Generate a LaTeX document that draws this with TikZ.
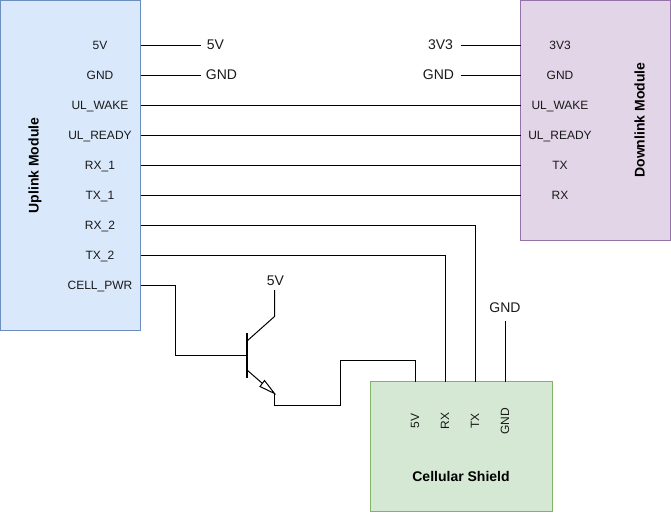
\documentclass[tikz,border=0pt]{standalone}
\usepackage{fontspec}
\setmainfont{Liberation Sans}
\definecolor{upfill}{HTML}{DAE8FC}
\definecolor{updraw}{HTML}{6C8EBF}
\definecolor{downfill}{HTML}{E1D5E7}
\definecolor{downdraw}{HTML}{9673A6}
\definecolor{shfill}{HTML}{D5E8D4}
\definecolor{shdraw}{HTML}{82B366}
\tikzset{
  module/.style={draw=#1,line width=1pt,inner sep=0pt,anchor=north west},
  port/.style={inner sep=0pt,text height=9pt,text depth=0pt,font=\fontsize{12}{14}\selectfont,text=black!90},
  free/.style={inner sep=0pt,font=\fontsize{14}{16}\selectfont,text=black!90},
  title/.style={inner sep=0pt,font=\fontsize{14}{16}\selectfont\bfseries},
  wire/.style={draw=black,line width=1pt},
}
\begin{document}
\begin{tikzpicture}[x=1pt,y=-1pt]
\useasboundingbox (0,0) rectangle (671,512);
\node[module=updraw,fill=upfill,minimum width=140pt,minimum height=330pt] (up) at (0,0) {};
\node[module=downdraw,fill=downfill,minimum width=150pt,minimum height=240pt] (down) at (520,0) {};
\node[module=shdraw,fill=shfill,minimum width=182pt,minimum height=130pt] (shield) at (370,381) {};
\node[title,rotate=90] (uptitle) at (35,165.5) {Uplink Module};
\node[title,rotate=90] (downtitle) at (639.5,120) {Downlink Module};
\node[title] (shtitle) at (461,476) {Cellular Shield};
% uplink ports
\node[port] (u1) at (100,45) {5V};
\node[port] (u2) at (100,75) {GND};
\node[port] (u3) at (100,105) {UL\_WAKE};
\node[port] (u4) at (100,135) {UL\_READY};
\node[port] (u5) at (100,165) {RX\_1};
\node[port] (u6) at (100,195) {TX\_1};
\node[port] (u7) at (100,225) {RX\_2};
\node[port] (u8) at (100,255) {TX\_2};
\node[port] (u9) at (100,285) {CELL\_PWR};
% downlink ports
\node[port] (d1) at (560,45) {3V3};
\node[port] (d2) at (560,75) {GND};
\node[port] (d3) at (560,105) {UL\_WAKE};
\node[port] (d4) at (560,135) {UL\_READY};
\node[port] (d5) at (560,165) {TX};
\node[port] (d6) at (560,195) {RX};
% shield ports
\node[port,rotate=90] (s1) at (414.5,421) {5V};
\node[port,rotate=90] (s2) at (444.5,421) {RX};
\node[port,rotate=90] (s3) at (474.5,421) {TX};
\node[port,rotate=90] (s4) at (504.5,421) {GND};
% free labels
\node[free] (l1) at (215.5,45) {5V};
\node[free] (l2) at (221.5,75) {GND};
\node[free] (l3) at (440.5,45) {3V3};
\node[free] (l4) at (438.5,75) {GND};
\node[free] (l5) at (275.5,280.5) {5V};
\node[free] (l6) at (505,308) {GND};
% connection ends
\coordinate (e1) at (200.5,45.5);
\coordinate (e2) at (200.5,75.5);
\coordinate (e3) at (460.5,45.5);
\coordinate (e4) at (460.5,75.5);
\coordinate (bbase) at (247,355.5);
\coordinate (bt) at (247,333);
\coordinate (bb) at (247,378);
\coordinate (cin) at (247,341);
\coordinate (cel) at (274.5,316.5);
\coordinate (ctop) at (274.5,290);
\coordinate (ein) at (247,370);
\coordinate (etip) at (274.5,393.5);
\coordinate (ebot) at (274.5,405.5);
\coordinate (a1) at (264.5,380.5);
\coordinate (a2) at (260,386.5);
\coordinate (m) at (262.5,383.5);
\coordinate (s1t) at (415.5,381.5);
\coordinate (s2t) at (445.5,381.5);
\coordinate (s3t) at (475.5,381.5);
\coordinate (s4t) at (505.5,381.5);
% wires
\draw[wire] (140.5,45.5) -- (e1);
\draw[wire] (140.5,75.5) -- (e2);
\draw[wire] (e3) -- (520.5,45.5);
\draw[wire] (e4) -- (520.5,75.5);
\draw[wire] (140.5,105.5) -- (520.5,105.5);
\draw[wire] (140.5,135.5) -- (520.5,135.5);
\draw[wire] (140.5,165.5) -- (520.5,165.5);
\draw[wire] (140.5,195.5) -- (520.5,195.5);
\draw[wire] (140.5,225.5) -| (s3t);
\draw[wire] (140.5,255.5) -| (s2t);
\draw[wire] (505.5,321) -- (s4t);
\draw[wire] (140.5,285.5) -| (175.5,355.5) -- (bbase);
\draw[line width=2pt] (bt) -- (bb);
\draw[wire] (cin) -- (cel) -- (ctop);
\draw[wire] (ein) -- (m);
\draw[black,line width=1pt,fill=none,line join=miter] (etip) -- (a1) -- (a2) -- cycle;
\draw[wire] (etip) -- (ebot) -- (340.5,405.5) |- (415.5,360.5) -- (s1t);
\end{tikzpicture}
\end{document}
